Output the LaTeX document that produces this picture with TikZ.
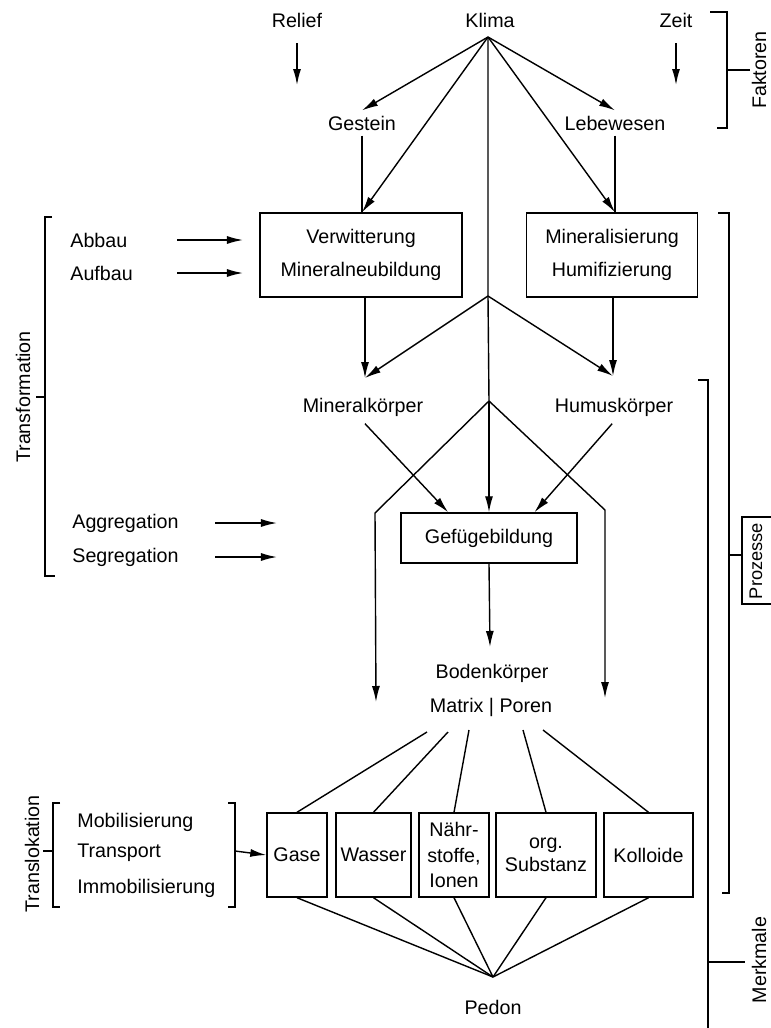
\documentclass[tikz,border=0pt]{standalone}
\usepackage{fontspec}
\setmainfont{Liberation Sans}
\usetikzlibrary{arrows.meta,calc}
\begin{document}
\begin{tikzpicture}[x=0.025cm, y=-0.025cm, line width=1pt, font=\fontsize{14}{17}\selectfont,
	arr/.style={-{Latex[length=4mm,width=2mm]}},
	kasten/.style={draw, inner sep=0pt, align=center, minimum height=2.1cm},
	seite/.style={rotate=90, inner sep=0pt}]
	\useasboundingbox (0,0) rectangle (771,1028);
	\node (relief) at (297,20) {Relief};
	\node (klima) at (490,20) {Klima};
	\node (zeit) at (676,20) {Zeit};
	\coordinate (kapex) at (488,37);
	\coordinate (relief1) at (297,43); \coordinate (relief2) at (297,85);
	\coordinate (zeit1) at (676,43); \coordinate (zeit2) at (676,85);
	\draw[arr] (relief1) -- (relief2);
	\draw[arr] (zeit1) -- (zeit2);
	\draw (710,12) -- (727,12) -- (727,128) -- (717,128);
	\draw (727,70) -- (750,70);
	\node[seite] (faktoren) at (759,70) {Faktoren};
	\node (gestein) at (362,123) {Gestein};
	\node (lebewesen) at (615,123) {Lebewesen};
	\draw[arr] (kapex) -- (gestein.north);
	\draw[arr] (kapex) -- (lebewesen.north);
	\node[kasten, minimum width=5.05cm, font=\fontsize{14}{23}\selectfont] (verw) at (361,255) {Verwitterung\\Mineralneubildung};
	\node[kasten, minimum width=4.275cm, font=\fontsize{14}{23}\selectfont] (minh) at (612,255) {Mineralisierung\\Humifizierung};
	\draw (gestein.south) -- (gestein.south |- verw.north);
	\draw (lebewesen.south) -- (lebewesen.south |- minh.north);
	\draw[arr] (kapex) -- (gestein.south |- verw.north);
	\draw[arr] (kapex) -- (lebewesen.south |- minh.north);
	\coordinate (b1) at (488,296);
	\coordinate (b2) at (489,401);
	\coordinate (mkin) at (365,378);
	\coordinate (hkin) at (613,376);
	\draw (kapex) -- (b1) -- (b2);
	\draw[arr] (verw.south -| mkin) -- (mkin);
	\draw[arr] (minh.south -| hkin) -- (hkin);
	\draw[arr] (b1) -- (mkin);
	\draw[arr] (b1) -- (hkin);
	\node (mineralk) at (363,407) {Mineralkörper};
	\node (humusk) at (614,407) {Humuskörper};
	\node[kasten, minimum width=4.4cm, minimum height=1.25cm] (gef) at (489,538) {Gefügebildung};
	\draw[arr] (b2) -- (gef.north);
	\draw[arr, shorten <=2pt] (mineralk.south) -- ($(gef.north west)!0.27!(gef.north east)$);
	\draw[arr, shorten <=2pt] (humusk.south) -- ($(gef.north west)!0.756!(gef.north east)$);
	\coordinate (lk) at (375,513); \coordinate (lend) at (376,702);
	\coordinate (rk) at (605,510); \coordinate (rend) at (605,698);
	\draw[arr] (b2) -- (lk) -- (lend);
	\draw[arr] (b2) -- (rk) -- (rend);
	\coordinate (bkin) at (490,647);
	\draw[arr] (gef.south) -- (bkin);
	\node (boden) at (492,673) {Bodenkörper};
	\node (matrix) at (491,707) {Matrix | Poren};
	\node[kasten, minimum width=1.5cm] (gase) at (297,855) {Gase};
	\node[kasten, minimum width=1.875cm] (wasser) at (373.5,855) {Wasser};
	\node[kasten, minimum width=1.75cm, font=\fontsize{14}{18}\selectfont] (naehr) at (454,855) {Nähr-\\stoffe,\\Ionen};
	\node[kasten, minimum width=2.5cm, font=\fontsize{14}{16}\selectfont] (org) at (546,855) {org.\\Substanz};
	\node[kasten, minimum width=2.225cm] (koll) at (648.5,855) {Kolloide};
	\coordinate (m1) at (427,732); \coordinate (m2) at (448,732); \coordinate (m3) at (469,730);
	\coordinate (m4) at (523,730); \coordinate (m5) at (543,730);
	\draw (m1) -- (gase.north);
	\draw (m2) -- (wasser.north);
	\draw (m3) -- (naehr.north);
	\draw (m4) -- (org.north);
	\draw (m5) -- (koll.north);
	\coordinate (papex) at (493,977);
	\foreach \b in {gase, wasser, naehr, org, koll}
		\draw (\b.south) -- (papex);
	\node (pedon) at (493,1007) {Pedon};
	\node[anchor=west] (abbau) at (65,240) {Abbau};
	\node[anchor=west] (aufbau) at (65,273) {Aufbau};
	\node[anchor=west] (aggr) at (67,523) {Aggregation};
	\node[anchor=west] (segr) at (67,557) {Segregation};
	\coordinate (abbau1) at (177,240); \coordinate (abbau2) at (243,240);
	\coordinate (aufbau1) at (177,273); \coordinate (aufbau2) at (243,273);
	\coordinate (aggr1) at (215,523); \coordinate (aggr2) at (277,523);
	\coordinate (segr1) at (215,557); \coordinate (segr2) at (277,557);
	\draw[arr] (abbau1) -- (abbau2);
	\draw[arr] (aufbau1) -- (aufbau2);
	\draw[arr] (aggr1) -- (aggr2);
	\draw[arr] (segr1) -- (segr2);
	\draw (52,217) -- (45,217) -- (45,576) -- (55,576);
	\draw (36,397) -- (45,397);
	\node[seite] (transf) at (23,397) {Transformation};
	\node[anchor=west] (mobil) at (72,822) {Mobilisierung};
	\node[anchor=west] (transport) at (72,853) {Transport};
	\node[anchor=west] (immobil) at (72,888) {Immobilisierung};
	\draw (60,803) -- (53,803) -- (53,907) -- (60,907);
	\draw (43,851) -- (53,851);
	\node[seite] (transl) at (32,854) {Translokation};
	\draw (228,803) -- (235,803) -- (235,907) -- (228,907);
	\coordinate (trk) at (235,851);
	\draw[arr] (trk) -- (gase.west);
	\draw (718,213) -- (729,213) -- (729,893) -- (722,893);
	\draw (729,555) -- (742,555);
	\draw (771,517) -- (742,517) -- (742,604) -- (771,604);
	\node[seite, font=\fontsize{13}{15}\selectfont] (prozesse) at (756,561) {Prozesse};
	\draw (698,380) -- (708,380) -- (708,1028);
	\draw (708,962) -- (745,962);
	\node[seite] (merkmale) at (759,960) {Merkmale};
\end{tikzpicture}
\end{document}
